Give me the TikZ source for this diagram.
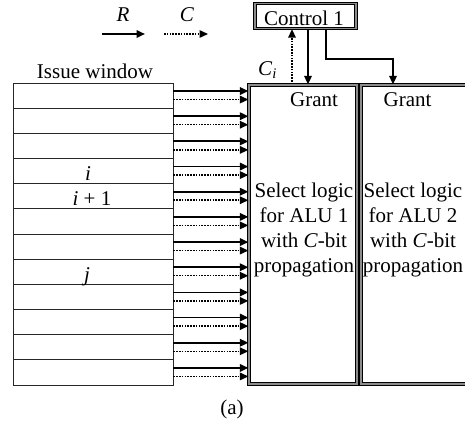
\documentclass[tikz,border=0pt]{standalone}
\usepackage{fontspec}
\setmainfont{Liberation Serif}
\usetikzlibrary{arrows.meta}

\begin{document}
\begin{tikzpicture}[x=1pt,y=-1pt,
  txt/.style={font=\fontsize{21}{25}\selectfont, inner sep=0pt},
  rowbox/.style={draw=black!85, line width=0.9pt, minimum width=160pt,
    minimum height=25.17pt, inner sep=0pt},
  dblbox/.style={draw=black, line width=1.3pt, double=black!45,
    double distance=1.1pt, inner sep=0pt},
  rarrow/.style={line width=1.8pt, -{Triangle[length=8.5pt,width=7.5pt]}},
  carrow/.style={line width=1.5pt, dash pattern=on 1.5pt off 1.3pt,
    -{Triangle[length=8.5pt,width=7.5pt]}},
]
\useasboundingbox (0,0) rectangle (465,428);
\clip (0,0) rectangle (465,428);

% legend
\coordinate (lr0) at (102,34);
\coordinate (lr1) at (145,34);
\draw[rarrow, line width=2.6pt] (lr0) -- (lr1);
\node[txt, anchor=base] (lR) at (123,22) {\textit{R}};
\coordinate (lc0) at (164,34);
\coordinate (lc1) at (208,34);
\draw[carrow] (lc0) -- (lc1);
\node[txt, anchor=base] (lC) at (187,22) {\textit{C}};

% issue window
\node[txt, anchor=base] (iw) at (95,78) {Issue window};
\foreach \k in {1,...,12}
  \node[rowbox] (r\k) at (93, {83+25.17*(\k-0.5)}) {};
\node[txt, anchor=base] (li) at (88,180) {\textit{i}};
\node[txt, anchor=base] (li1) at (92,205) {\textit{i} + 1};
\node[txt, anchor=base] (lj) at (87,281) {\textit{j}};

% select logic blocks
\node[dblbox, minimum width=108pt, minimum height=299pt] (sel1) at (303,234.5) {};
\node[dblbox, minimum width=110pt, minimum height=299pt] (sel2) at (416,234.5) {};
\node[txt, anchor=base] (g1) at (314,106) {Grant};
\node[txt, anchor=base] (g2) at (407.5,106) {Grant};
\node[txt, align=center, anchor=north] (b1) at (304,183)
  {Select logic\\for ALU 1\\with \textit{C}-bit\\propagation};
\node[txt, align=center, anchor=north] (b2) at (413,183)
  {Select logic\\for ALU 2\\with \textit{C}-bit\\propagation};

% request and carry lines from each entry
\foreach \k in {1,...,12} {
  \coordinate (s\k) at ([yshift=-8.5pt]r\k.north east);
  \coordinate (d\k) at ([yshift=-17pt]r\k.north east);
  \draw[rarrow] (s\k) -- (s\k -| sel1.west);
  \draw[carrow] (d\k) -- (d\k -| sel1.west);
}

% control unit
\node[dblbox, minimum width=101pt, minimum height=25pt] (ctrl) at (305.5,16) {};
\node[txt, anchor=base] (ctxt) at (304,25.5) {Control 1};
\coordinate (cu) at ([xshift=-13.5pt]ctrl.south);
\coordinate (cd) at ([xshift=2.5pt]ctrl.south);
\coordinate (c2) at ([xshift=20.5pt]ctrl.south);
\coordinate (turn) at (393,59);
\draw[carrow] (cu |- sel1.north) -- (cu);
\draw[rarrow] (cd) -- (cd |- sel1.north);
\draw[rarrow] (c2) |- (turn) -- (turn |- sel2.north);
\node[txt, anchor=base] (ci) at (267.5,75) {\textit{C}\textsubscript{\textit{i}}};

\node[txt, anchor=base] (cap) at (232,414.5) {(a)};
\end{tikzpicture}
\end{document}
